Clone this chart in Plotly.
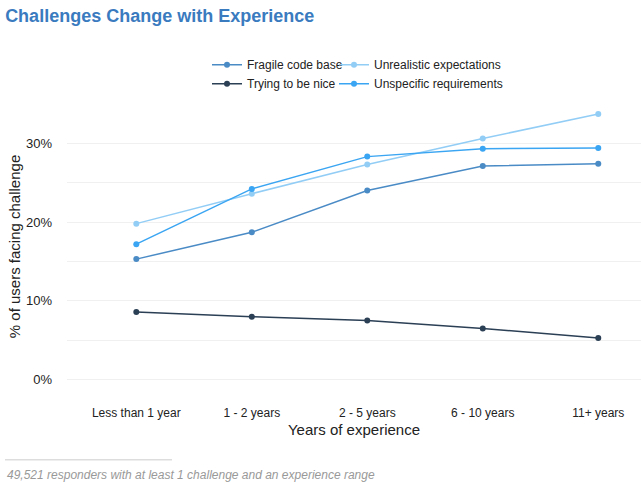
import plotly.graph_objects as go

categories = ["Less than 1 year", "1 - 2 years", "2 - 5 years", "6 - 10 years", "11+ years"]
fragile = [15.3, 18.7, 24.0, 27.1, 27.4]
unrealistic = [19.8, 23.6, 27.3, 30.6, 33.7]
trying = [8.6, 8.0, 7.5, 6.5, 5.3]
unspecific = [17.2, 24.2, 28.3, 29.3, 29.4]
y_ticks = [0, 10, 20, 30]
y_tick_text = ["0%", "10%", "20%", "30%"]

series = [
    ("Fragile code base", fragile, "#4a8bc6", "legend"),
    ("Unrealistic expectations", unrealistic, "#92cdf6", "legend2"),
    ("Trying to be nice", trying, "#2b3f55", "legend"),
    ("Unspecific requirements", unspecific, "#3aa5f2", "legend2"),
]

fig = go.Figure()
for name, vals, color, lg in series:
    fig.add_trace(go.Scatter(
        x=list(range(len(categories))), y=vals, name=name, mode="lines+markers",
        line=dict(color=color, width=1.5), marker=dict(color=color, size=6),
        legend=lg,
    ))

legend_common = dict(orientation="v", xanchor="left", y=1.184, yanchor="top",
                     font=dict(size=12, color="#222"), tracegroupgap=0,
                     bgcolor="rgba(0,0,0,0)")
fig.update_layout(
    width=641, height=491,
    margin=dict(l=67, r=0, t=103, b=101),
    paper_bgcolor="white", plot_bgcolor="white",
    font=dict(family="Liberation Sans, Arial, sans-serif", color="#222"),
    title=dict(text="<b>Challenges Change with Experience</b>", x=0.008, xanchor="left",
               y=0.98, yanchor="top", font=dict(size=18, color="#3a7bbf")),
    legend=dict(x=(207 - 67) / 574, **legend_common),
    legend2=dict(x=(334 - 67) / 574, **legend_common),
    showlegend=True,
)
fig.update_xaxes(
    tickvals=list(range(len(categories))), ticktext=categories,
    range=[-0.6, 4.37], showgrid=False, zeroline=False, showline=False,
    tickfont=dict(size=12, color="#222"), ticks="", ticklabelstandoff=14,
    title=dict(text="Years of experience", font=dict(size=15, color="#222"), standoff=5),
)
fig.update_yaxes(
    tickvals=y_ticks, ticktext=y_tick_text, range=[-1.3, 35.1],
    showgrid=True, gridcolor="#f0f0f0", gridwidth=1, zeroline=False, showline=False,
    minor=dict(dtick=5, tick0=0, showgrid=True, gridcolor="#f0f0f0", gridwidth=1),
    tickfont=dict(size=13, color="#222"), ticks="", ticklabelstandoff=14,
    title=dict(text="% of users facing challenge", font=dict(size=15, color="#222"), standoff=1),
)
fig.add_shape(type="line", xref="paper", yref="paper",
              x0=-62/574, x1=105/574, y0=-70/287.7, y1=-70/287.7,
              line=dict(color="#cccccc", width=1))
fig.add_annotation(text="<i>49,521 responders with at least 1 challenge and an experience range</i>",
                   xref="paper", yref="paper", x=-62/574, y=-76/287.7, xanchor="left", yanchor="top",
                   showarrow=False, font=dict(size=12, color="#999999"))

fig.write_html("out.html")
